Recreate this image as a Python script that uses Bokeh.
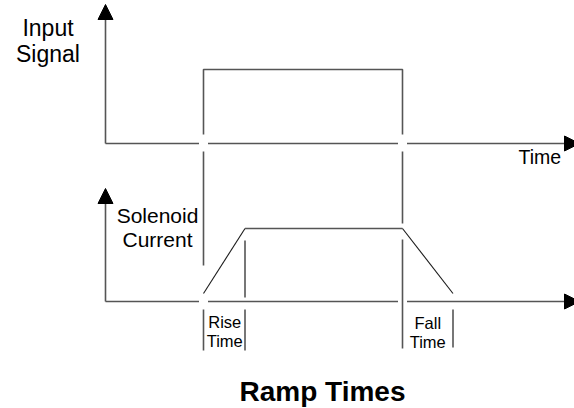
from bokeh.plotting import figure
from bokeh.models import Range1d, Arrow, NormalHead
from bokeh.core.properties import value
from bokeh.embed import file_html
from bokeh.resources import INLINE

# ---- diagram values (time along x, signal level along y; y grows downward) ----
t_origin = 105           # start of both time axes
t_axis_tip = 579         # arrow tip of the time axes
t_on = 203               # input switched on
t_off = 402              # input switched off
rise_time = 41.5
fall_time = 50.5

input_axis_y = 143       # input-signal baseline
input_high = 69          # input-signal high level
input_axis_tip = 4

current_axis_y = 301     # current baseline
current_low = 293        # ramp start / end level
current_high = 228       # plateau level
current_axis_tip = 188

# ramp current waveform
current_t = [t_on, t_on + rise_time, t_off, t_off + fall_time]
current_y = [current_low, current_high, current_high, current_low]

# input pulse
pulse_t = [t_on, t_on, t_off, t_off]
pulse_y = [input_axis_y - 9, input_high, input_high, input_axis_y - 9]

# marker lines (x, y_start, y_end)
marker_x = [t_on, t_off, t_off, t_on + rise_time, t_on, t_on + rise_time, t_off + fall_time]
marker_y0 = [input_axis_y + 8, input_axis_y + 8, current_high + 11, current_high + 12,
             current_axis_y + 8, current_axis_y + 8, current_axis_y + 8]
marker_y1 = [265, current_high - 5, 348, 297, 350, 350, 347]

# labels: text, x, baseline y, size (px), align, style
label_text = ["Input", "Signal", "Time", "Solenoid", "Current",
              "Rise", "Time", "Fall", "Time", "Ramp Times"]
label_x = [47.5, 47.5, 518, 157, 157,
           t_on + rise_time / 2 + 0.5, t_on + rise_time / 2 + 0.5,
           t_off + fall_time / 2, t_off + fall_time / 2, 322]
label_y = [36, 62, 164, 223, 247, 327, 346, 328, 347, 401]
label_size = [23, 23, 19.5, 21, 21, 16.5, 16.5, 16.5, 16.5, 28]
label_align = ["center", "center", "left", "center", "center",
               "center", "center", "center", "center", "center"]
label_style = ["normal"] * 9 + ["bold"]

GAP = 4.5

LINE = "#555555"
INK = "#1a1a1a"
FONT = "Liberation Sans"

W, H = 574, 408
p = figure(width=W, height=H, x_range=Range1d(0, W), y_range=Range1d(H, 0),
           output_backend="svg", toolbar_location=None,
           x_axis_location=None, y_axis_location=None,
           min_border=0, outline_line_color=None,
           background_fill_color="white", border_fill_color="white")
p.grid.visible = False

# time axes with breaks where the marker lines cross them
for ay in (input_axis_y, current_axis_y):
    xs0 = [t_origin, t_on + GAP, t_off + GAP]
    xs1 = [t_on - GAP, t_off - GAP, t_axis_tip - 6]
    p.segment(x0=xs0, y0=[ay] * 3, x1=xs1, y1=[ay] * 3, line_color=LINE, line_width=1.6)

# vertical axes
p.segment(x0=[t_origin, t_origin], y0=[input_axis_y, current_axis_y],
          x1=[t_origin, t_origin], y1=[input_axis_tip + 8, current_axis_tip + 8],
          line_color=LINE, line_width=1.6)

# arrow heads
for (xs, ys, xe, ye) in [(t_origin, input_axis_tip + 20, t_origin, input_axis_tip),
                         (t_origin, current_axis_tip + 20, t_origin, current_axis_tip),
                         (t_axis_tip - 20, input_axis_y, t_axis_tip, input_axis_y),
                         (t_axis_tip - 20, current_axis_y, t_axis_tip, current_axis_y)]:
    p.add_layout(Arrow(end=NormalHead(size=15, fill_color="black", line_color="black"),
                       x_start=xs, y_start=ys, x_end=xe, y_end=ye, line_alpha=0))

# input pulse
p.line(pulse_t, pulse_y, line_color=LINE, line_width=1.6)

# solenoid current
p.line(current_t[:2], current_y[:2], line_color=INK, line_width=1.1)
p.line(current_t[1:3], current_y[1:3], line_color=LINE, line_width=1.6)
p.line(current_t[2:], current_y[2:], line_color=INK, line_width=1.1)

# marker / bracket lines
p.segment(x0=marker_x, y0=marker_y0, x1=marker_x, y1=marker_y1,
          line_color=LINE, line_width=1.6)

# texts (anchored at the middle of the caps so the baseline lands at label_y)
for t, x, y, s, a, st in zip(label_text, label_x, label_y, label_size, label_align, label_style):
    p.text(x=[x], y=[y - 0.36 * s], text=[t], text_font=value(FONT),
           text_font_size=value(f"{s}px"),
           text_align=a, text_baseline="middle", text_color="black",
           text_font_style=st)

open("out.html", "w").write(file_html(p, INLINE))
